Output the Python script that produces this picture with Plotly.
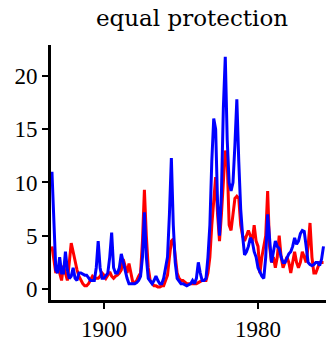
import plotly.graph_objects as go

# yearly values, 1873-2014
years = list(range(1873, 2015))

blue_vals = [
    11.0, 6.0, 1.8, 1.5, 3.0, 1.5, 1.5, 3.5, 1.8, 1.0,
    1.2, 2.0, 1.0, 0.8, 1.5, 1.5, 1.4, 1.3, 1.3, 1.0,
    0.8, 0.8, 0.8, 2.0, 4.5, 2.0, 1.0, 1.0, 1.2, 1.5,
    3.0, 5.3, 2.0, 1.5, 1.5, 2.0, 3.3, 2.5, 1.5, 1.0,
    0.5, 0.5, 0.5, 0.5, 0.6, 0.8, 1.2, 3.0, 7.2, 3.0,
    1.0, 0.8, 0.5, 0.8, 1.2, 0.8, 0.5, 0.5, 1.0, 2.0,
    3.0, 7.0, 12.3, 6.0, 2.5, 1.0, 0.8, 0.5, 0.5, 0.4,
    0.3, 0.4, 0.5, 0.8, 0.5, 1.0, 2.5, 1.5, 0.8, 0.8,
    1.0, 3.0, 6.0, 12.0, 16.0, 15.0, 8.0, 5.0, 9.0, 17.0,
    21.8, 14.0, 10.0, 9.2, 10.0, 13.5, 17.8, 12.0, 7.5, 5.0,
    3.2, 3.5, 4.0, 4.8, 4.5, 3.5, 3.0, 2.0, 1.5, 1.2,
    1.0, 3.0, 7.0, 4.5, 2.5, 3.5, 4.5, 4.0, 3.8, 3.0,
    2.5, 2.5, 3.0, 3.3, 3.5, 4.0, 4.8, 4.2, 4.5, 5.2,
    5.5, 5.4, 4.0, 2.5, 2.3, 2.2, 2.3, 2.5, 2.5, 2.2,
    2.8, 4.0,
]

red_vals = [
    4.0, 2.5, 1.5, 2.2, 1.5, 0.8, 2.2, 1.5, 0.8, 2.5,
    4.3, 3.5, 2.5, 1.8, 1.2, 0.8, 0.5, 0.3, 0.3, 0.5,
    0.8, 1.2, 1.0, 1.0, 1.0, 1.2, 1.5, 1.3, 1.0, 1.3,
    1.6, 1.2, 1.0, 1.2, 1.3, 1.5, 1.8, 2.8, 2.0, 1.5,
    2.4, 1.5, 0.6, 0.6, 0.8, 1.2, 1.5, 4.5, 9.3, 5.0,
    2.0, 0.8, 0.5, 0.3, 0.3, 0.2, 0.2, 0.3, 0.3, 0.8,
    1.3, 3.0, 4.5, 4.7, 3.0, 1.5, 1.0, 0.8, 0.8, 0.6,
    0.5, 0.5, 0.5, 0.5, 0.5, 0.5, 0.6, 0.7, 0.8, 0.8,
    0.8, 1.5, 3.0, 6.0, 8.0, 10.5, 7.0, 4.5, 7.0, 10.0,
    13.0, 12.0, 6.0, 5.5, 7.0, 8.5, 8.7, 8.5, 6.0, 5.0,
    4.5, 5.0, 5.5, 5.0, 4.5, 6.0, 4.5, 4.0, 1.5, 3.0,
    4.0, 5.0, 9.2, 4.0, 2.5, 3.0, 2.0, 3.0, 5.0, 3.0,
    2.0, 2.5, 3.0, 2.5, 1.5, 2.5, 3.5, 2.5, 2.0, 2.5,
    3.5, 3.0, 2.5, 4.0, 6.2, 3.0, 1.5, 1.5, 2.0, 2.5,
    2.5, 2.5,
]

x_ticks = [1900, 1980]
y_ticks = [0, 5, 10, 15, 20]

fig = go.Figure()
fig.add_trace(go.Scatter(x=years, y=red_vals, mode="lines",
                         line=dict(color="#ff0000", width=3)))
fig.add_trace(go.Scatter(x=years, y=blue_vals, mode="lines",
                         line=dict(color="#0000ff", width=3)))

fig.update_layout(
    width=326, height=346,
    margin=dict(l=51, r=0, t=45, b=46, autoexpand=False),
    paper_bgcolor="white", plot_bgcolor="white",
    showlegend=False,
    font=dict(family="Liberation Serif", size=23, color="black"),
    title=dict(text="equal protection", x=0.589, xanchor="center",
               y=0.948, yanchor="middle",
               font=dict(family="DejaVu Serif", size=23, color="black")),
)
fig.update_xaxes(range=[1872.5, 2015.3], tickvals=x_ticks,
                 showgrid=False, zeroline=False, automargin=False,
                 showline=True, linecolor="black", linewidth=3,
                 ticks="outside", ticklen=6, tickwidth=2, tickcolor="black")
fig.update_yaxes(range=[-1.03, 22.9], tickvals=y_ticks,
                 showgrid=False, zeroline=False, automargin=False,
                 showline=True, linecolor="black", linewidth=3,
                 ticks="outside", ticklen=6, tickwidth=2, tickcolor="black")

# drop the default 8px body margin so the figure fills the window exactly
fig.write_html("out.html", config={"displayModeBar": False},
               post_script="document.body.style.margin='0px';")
